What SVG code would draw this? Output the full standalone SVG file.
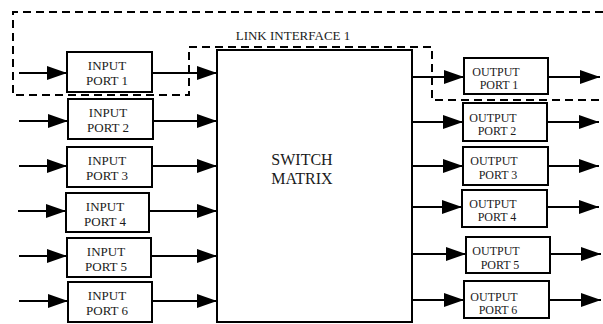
<svg xmlns="http://www.w3.org/2000/svg" width="603" height="324" viewBox="0 0 603 324">
<style>
.box{fill:#fff;stroke:#000;stroke-width:2}
.ln{fill:none;stroke:#000;stroke-width:2;marker-end:url(#ah)}
.dash{fill:none;stroke:#000;stroke-width:2;stroke-dasharray:8 5}
text{font-family:"Liberation Serif","Times New Roman",serif;font-size:13px;fill:#1a1a1a;text-anchor:middle}
.big{font-size:16px}
.out{font-size:12px}
</style>
<defs>
<marker id="ah" viewBox="0 0 20 14" refX="20" refY="7" markerWidth="20" markerHeight="14" markerUnits="userSpaceOnUse" orient="auto">
<path d="M0,0 L20,7 L0,14 Z" fill="#000"/>
</marker>
</defs>
<rect width="603" height="324" fill="#fff"/>
<g id="link-interface">
<path class="dash" d="M603,12 H13 V95 H189 V47 H432 V100 H603"/>
<text x="293" y="40">LINK INTERFACE 1</text>
</g>
<g id="connectors">
<path class="ln" d="M19,73 H67"/>
<path class="ln" d="M152,73 H217"/>
<path class="ln" d="M19,121 H68"/>
<path class="ln" d="M153,121 H217"/>
<path class="ln" d="M19,166 H67"/>
<path class="ln" d="M152,166 H217"/>
<path class="ln" d="M18,211 H66"/>
<path class="ln" d="M149,211 H217"/>
<path class="ln" d="M19,256 H67"/>
<path class="ln" d="M151,256 H217"/>
<path class="ln" d="M19,301 H68"/>
<path class="ln" d="M152,301 H217"/>
<path class="ln" d="M412,77 H464"/>
<path class="ln" d="M548,77 H600"/>
<path class="ln" d="M411,122 H463"/>
<path class="ln" d="M547,122 H599"/>
<path class="ln" d="M411,166 H463"/>
<path class="ln" d="M548,166 H599"/>
<path class="ln" d="M411,207 H462"/>
<path class="ln" d="M547,207 H599"/>
<path class="ln" d="M412,254 H466"/>
<path class="ln" d="M550,254 H601"/>
<path class="ln" d="M412,300 H464"/>
<path class="ln" d="M549,300 H601"/>
</g>
<g id="switch-matrix">
<rect class="box" x="217" y="50" width="195" height="272"/>
<text class="big" x="302" y="165">SWITCH</text>
<text class="big" x="302" y="184">MATRIX</text>
</g>
<g id="input-port-1">
<rect class="box" x="67" y="52" width="85" height="40"/>
<text x="107" y="70">INPUT</text><text x="107" y="85">PORT 1</text>
</g>
<g id="input-port-2">
<rect class="box" x="68" y="99" width="85" height="40"/>
<text x="108" y="117">INPUT</text><text x="108" y="132">PORT 2</text>
</g>
<g id="input-port-3">
<rect class="box" x="67" y="147" width="85" height="40"/>
<text x="107" y="165">INPUT</text><text x="107" y="180">PORT 3</text>
</g>
<g id="input-port-4">
<rect class="box" x="66" y="193" width="83" height="39"/>
<text x="105" y="211">INPUT</text><text x="105" y="226">PORT 4</text>
</g>
<g id="input-port-5">
<rect class="box" x="67" y="238" width="84" height="39"/>
<text x="106" y="256">INPUT</text><text x="106" y="271">PORT 5</text>
</g>
<g id="input-port-6">
<rect class="box" x="68" y="282" width="84" height="40"/>
<text x="107" y="300">INPUT</text><text x="107" y="315">PORT 6</text>
</g>
<g id="output-port-1">
<rect class="box" x="464" y="58" width="84" height="36"/>
<text class="out" x="496" y="75.5">OUTPUT</text><text class="out" x="499" y="89">PORT 1</text>
</g>
<g id="output-port-2">
<rect class="box" x="463" y="103" width="84" height="38"/>
<text class="out" x="493" y="121.5">OUTPUT</text><text class="out" x="497" y="135">PORT 2</text>
</g>
<g id="output-port-3">
<rect class="box" x="463" y="147" width="85" height="38"/>
<text class="out" x="494" y="165">OUTPUT</text><text class="out" x="498" y="178.5">PORT 3</text>
</g>
<g id="output-port-4">
<rect class="box" x="462" y="190" width="85" height="37"/>
<text class="out" x="493" y="207.5">OUTPUT</text><text class="out" x="497" y="221">PORT 4</text>
</g>
<g id="output-port-5">
<rect class="box" x="466" y="237" width="84" height="36"/>
<text class="out" x="496" y="255">OUTPUT</text><text class="out" x="500" y="268.5">PORT 5</text>
</g>
<g id="output-port-6">
<rect class="box" x="464" y="281" width="85" height="37"/>
<text class="out" x="494" y="300.5">OUTPUT</text><text class="out" x="498" y="314">PORT 6</text>
</g>
</svg>
